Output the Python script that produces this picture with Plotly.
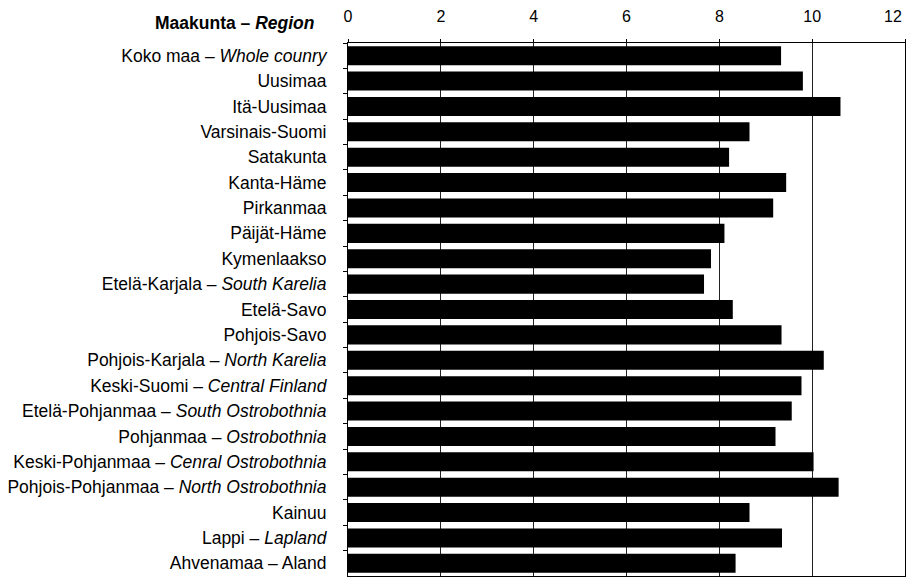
import plotly.graph_objects as go

regions = [
    "Koko maa – <i>Whole counry</i>",
    "Uusimaa",
    "Itä-Uusimaa",
    "Varsinais-Suomi",
    "Satakunta",
    "Kanta-Häme",
    "Pirkanmaa",
    "Päijät-Häme",
    "Kymenlaakso",
    "Etelä-Karjala – <i>South Karelia</i>",
    "Etelä-Savo",
    "Pohjois-Savo",
    "Pohjois-Karjala – <i>North Karelia</i>",
    "Keski-Suomi – <i>Central Finland</i>",
    "Etelä-Pohjanmaa – <i>South Ostrobothnia</i>",
    "Pohjanmaa – <i>Ostrobothnia</i>",
    "Keski-Pohjanmaa – <i>Cenral Ostrobothnia</i>",
    "Pohjois-Pohjanmaa – <i>North Ostrobothnia</i>",
    "Kainuu",
    "Lappi – <i>Lapland</i>",
    "Ahvenamaa – Aland",
]
values = [9.33, 9.80, 10.61, 8.65, 8.21, 9.44, 9.16, 8.11, 7.82, 7.67, 8.29,
          9.34, 10.25, 9.77, 9.56, 9.21, 10.03, 10.57, 8.65, 9.35, 8.35]
x_ticks = [0, 2, 4, 6, 8, 10, 12]
x_ticklabels = ["0", "2", "4", "6", "8", "10", "12"]

FONT = "Liberation Sans, Arial, sans-serif"

fig = go.Figure(go.Bar(
    x=values, y=regions, orientation="h",
    marker=dict(color="black", line=dict(width=0)),
    width=0.75,
))

# last tick label sits at the right edge of the page: draw it as an
# annotation anchored on the axis value so it is not clipped
axis_ticktext = x_ticklabels[:-1] + [""]

fig.update_layout(
    template="none",
    width=908, height=579,
    margin=dict(l=348, r=3, t=43, b=3, autoexpand=False),
    paper_bgcolor="white", plot_bgcolor="white",
    font=dict(family=FONT, size=17.5, color="black"),
    showlegend=False,
    annotations=[
        dict(
            text="<b>Maakunta – <i>Region</i></b>",
            xref="x", yref="paper", x=0, y=1,
            xanchor="right", yanchor="middle",
            xshift=-31, yshift=20, showarrow=False,
            font=dict(family=FONT, size=17.5, color="black"),
        ),
        dict(
            text=x_ticklabels[-1],
            xref="x", yref="paper", x=x_ticks[-1], y=1,
            xanchor="right", yanchor="middle",
            xshift=-1, yshift=27, showarrow=False,
            font=dict(family=FONT, size=16, color="black"),
        ),
    ],
)

fig.update_xaxes(
    side="top", range=[0, 12], tickvals=x_ticks, ticktext=axis_ticktext,
    automargin=False,
    showgrid=True, gridcolor="#222222", gridwidth=1,
    showline=True, linecolor="black", linewidth=1, mirror=True,
    ticks="outside", ticklen=3, tickcolor="black",
    tickfont=dict(family=FONT, size=16, color="black"),
    ticklabelstandoff=11, zeroline=False,
)
fig.update_yaxes(
    autorange="reversed", showgrid=False, automargin=False,
    showline=True, linecolor="black", linewidth=1, mirror=True,
    ticks="outside", ticklen=4, tickcolor="black", tickson="boundaries",
    tickfont=dict(family=FONT, size=17.5, color="black"),
    ticklabelstandoff=17, zeroline=False,
)

fig.write_html(
    "out.html",
    config={"displayModeBar": False},
    post_script="document.body.style.margin='0';document.body.style.overflow='hidden';",
)
